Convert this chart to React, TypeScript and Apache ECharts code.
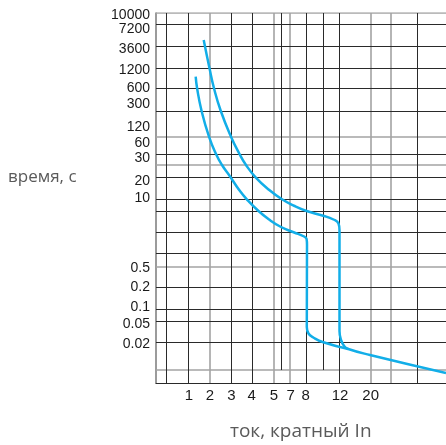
import React, { useEffect, useRef } from "react";
import * as echarts from "echarts";

// Abstract chart coordinates (the chart's scales are schematic, non-uniform)
const X_MAX = 290;
const Y_MAX = 370;

const yLabels = ["10000", "7200", "3600", "1200", "600", "300", "120", "60", "30", "20", "10", "0.5", "0.2", "0.1", "0.05", "0.02"];
const yLabelPos = [0.6, 15.3, 35.3, 56, 74.3, 90.3, 112.7, 128.7, 143.7, 167, 184.3, 254.3, 272.7, 292.7, 310.3, 329.7];

const xLabels = ["1", "2", "3", "4", "5", "7", "8", "12", "20"];
const xLabelPos = [33, 54, 75.3, 95.7, 118, 134.7, 149.7, 184, 214.7];

const xGridBlack = [10.7, 32.7, 75.3, 96.3, 150.7, 183.3, 261.7];
const xGridGray = [54, 117.3, 134, 214.7, 234.7];
const xGridShort = [125, 167.3];
const yGridBlack = [11.3, 33.3, 55.3, 75.3, 98, 141.3, 164.3, 186.3, 198, 219.7, 240.3, 274.7, 296, 308, 329.3];
const yGridGray = [0, 123.7, 152, 253.7, 357];

const curveUpper: [number, number][] = [
  [47.7, 27], [53.5, 55.3], [58, 75.3], [64.8, 98], [75, 123.7], [83.5, 141], [90, 152],
  [99.6, 164.3], [113.3, 177], [126, 186.3], [138.6, 193], [150.6, 198], [166.3, 202.5],
  [177.5, 206.5], [182.5, 210.5], [183.5, 217], [183.5, 318], [185, 327], [188.5, 333.5],
  [192.3, 336], [214, 342], [290, 360],
];
const curveLower: [number, number][] = [
  [39.7, 63.7], [41.1, 75.3], [45.6, 98], [53, 123.7], [60, 141], [66, 152], [74.4, 164],
  [83.2, 177], [90.8, 186.3], [102.5, 198], [113.8, 207], [125, 214], [138.2, 219.5],
  [147, 223], [150.6, 226], [151, 232], [150.8, 314], [152.5, 320.5], [157.3, 324.5],
  [167.3, 329.3], [192.3, 336],
];

const BLACK = "#2a2a2a";
const GRAY = "#a3a3a3";
const CURVE = "#12aee8";

export default function App() {
  const ref = useRef<HTMLDivElement>(null);
  useEffect(() => {
    if (!ref.current) return;
    const chart = echarts.init(ref.current, null, { renderer: "svg" });
    const vLine = (x: number, y1 = 0, y2 = Y_MAX) => ({ coords: [[x, y1], [x, y2]] });
    const hLine = (y: number) => ({ coords: [[0, y], [X_MAX, y]] });
    const yMap = new Map(yLabelPos.map((p, i) => [p, yLabels[i]]));
    const xMap = new Map(xLabelPos.map((p, i) => [p, xLabels[i]]));
    const yAxisFor = (parity: number, showLine: boolean) => ({
      type: "value",
      position: "left",
      offset: 0,
      min: 0,
      max: Y_MAX,
      inverse: true,
      axisLine: { show: showLine, onZero: false, lineStyle: { color: "#7a7a7a", width: 1.5 } },
      axisTick: { show: false },
      splitLine: { show: false },
      axisLabel: {
        customValues: yLabelPos.filter((_, i) => i % 2 === parity),
        formatter: (v: number) => yMap.get(v) ?? "",
        showMinLabel: true,
        showMaxLabel: true,
        hideOverlap: false,
        color: "#1a1a1a",
        fontSize: 14,
        lineHeight: 13,
        fontFamily: "Liberation Sans",
        margin: 6,
      },
    });
    chart.setOption({
      animation: false,
      grid: { left: 156, top: 13, right: 0, bottom: 62 },
      xAxis: {
        type: "value",
        min: 0,
        max: X_MAX,
        axisLine: { show: true, onZero: false, lineStyle: { color: BLACK, width: 1 } },
        axisTick: { show: false },
        splitLine: { show: false },
        axisLabel: {
          customValues: xLabelPos,
          formatter: (v: number) => xMap.get(v) ?? "",
          color: "#1a1a1a",
          fontSize: 15,
          fontFamily: "Liberation Sans",
          margin: 4,
        },
      },
      yAxis: [yAxisFor(0, true), yAxisFor(1, false)],
      graphic: [
        {
          type: "text",
          left: 8,
          top: 167,
          style: { text: "время, с", fill: "#5a5a5a", font: '17px "Open Sans"' },
        },
        {
          type: "text",
          left: 230,
          top: 420,
          style: { text: "ток, кратный In", fill: "#5a5a5a", font: '19px "Open Sans"' },
        },
      ],
      series: [
        {
          type: "lines",
          coordinateSystem: "cartesian2d",
          silent: true,
          z: 1,
          lineStyle: { color: GRAY, width: 1.6, opacity: 1 },
          data: [...xGridGray.map((x) => vLine(x)), ...yGridGray.map(hLine)],
        },
        {
          type: "lines",
          coordinateSystem: "cartesian2d",
          silent: true,
          z: 2,
          lineStyle: { color: BLACK, width: 1, opacity: 1 },
          data: [
            ...xGridBlack.map((x) => vLine(x)),
            ...xGridShort.map((x) => vLine(x, 0, 357)),
            ...yGridBlack.map(hLine),
          ],
        },
        {
          type: "line",
          z: 5,
          data: curveUpper,
          smooth: 0.5,
          showSymbol: false,
          symbol: "none",
          lineStyle: { color: CURVE, width: 2.5 },
        },
        {
          type: "line",
          z: 5,
          data: curveLower,
          smooth: 0.5,
          showSymbol: false,
          symbol: "none",
          lineStyle: { color: CURVE, width: 2.5 },
        },
      ],
    });
    return () => chart.dispose();
  }, []);
  return (
    <div
      ref={ref}
      style={{ position: "fixed", left: 0, top: 0, width: 446, height: 445 }}
    />
  );
}
